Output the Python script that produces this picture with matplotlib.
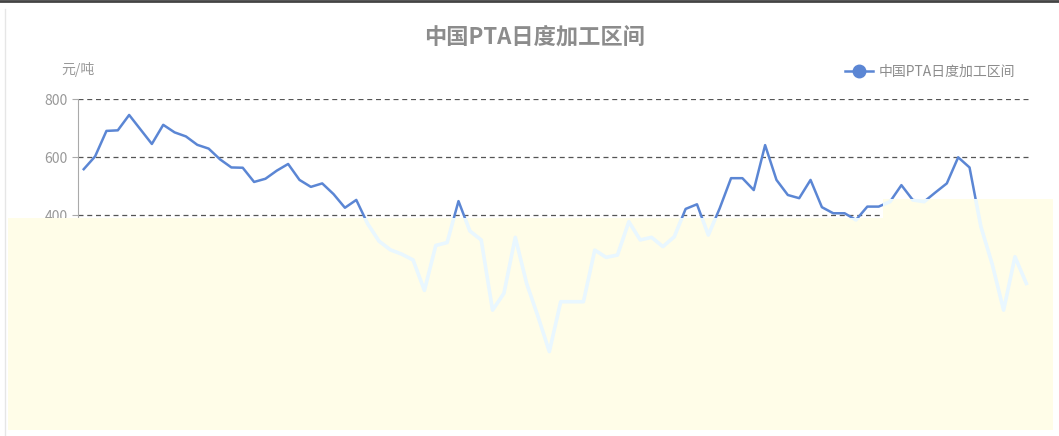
import matplotlib.pyplot as plt
from matplotlib.patches import Polygon

plt.rcParams['font.family'] = ['Noto Sans CJK SC', 'DejaVu Sans']

# 中国PTA日度加工区间, 元/吨
spread = [558, 602, 690, 692, 745, 695, 645, 711, 685, 671,
          642, 629, 592, 564, 563, 514, 525, 553, 576, 521,
          497, 509, 472, 425, 452, 370, 310, 280, 265, 245,
          140, 295, 305, 448, 345, 314, 72, 130, 323, 164,
          50, -71, 101, 101, 101, 279, 254, 262, 377, 314,
          323, 291, 325, 421, 437, 331, 423, 527, 527, 486,
          641, 521, 469, 458, 521, 427, 406, 406, 383, 429,
          429, 446, 503, 452, 446, 478, 509, 599, 564, 360,
          230, 72, 256, 164]
yticks = [-200, 0, 200, 400, 600, 800]
series_name = '中国PTA日度加工区间'

x = list(range(len(spread)))

fig = plt.figure(figsize=(10.59, 4.36), dpi=100)
ax = fig.add_axes([0.0737, 0.1078, 0.9008, 0.6651])

ax.plot(x, spread, color='#5b86d4', lw=1.8, zorder=3)

ax.set_xlim(-0.5, len(spread) - 0.5)
ax.set_ylim(-200, 800)
ax.set_yticks(yticks)
ax.set_xticks([])
ax.tick_params(axis='y', colors='#aaaaaa', labelcolor='#999999', labelsize=10, length=4)
for s in ['top', 'right', 'bottom']:
    ax.spines[s].set_visible(False)
ax.spines['left'].set_color('#aaaaaa')
ax.yaxis.grid(True, linestyle=(0, (4, 3)), color='#555555', lw=0.9)
ax.set_axisbelow(True)

fig.text(0.505, 0.915, series_name, ha='center', va='center', fontsize=16,
         fontweight='bold', color='#8c8c8c')
fig.text(0.058, 0.84, '元/吨', ha='left', va='center', fontsize=10, color='#999999')

leg_line, = ax.plot([], [], color='#5b86d4', lw=1.8, marker='o', markersize=9)
leg = fig.legend([leg_line], [series_name], loc='center', bbox_to_anchor=(0.878, 0.835),
                 frameon=False, fontsize=10, handlelength=2.0, handletextpad=0.4)
for t in leg.get_texts():
    t.set_color('#8c8c8c')

# frame lines of the screenshot
fig.add_artist(plt.Line2D([0, 1], [0.997, 0.997], color='#444444', lw=2))
fig.add_artist(plt.Line2D([0.005, 0.005], [0.0, 0.98], color='#e6e6e6', lw=1))

# pale overlay covering the lower part of the picture
W, H = 1059, 436
pts = [(8, 218), (883, 218), (883, 199), (1053, 199), (1053, 430), (8, 430)]
poly = Polygon([(px / W, 1 - py / H) for px, py in pts], closed=True,
               transform=fig.transFigure, facecolor='#fffde8', edgecolor='none',
               clip_on=False, zorder=10)
ax.add_patch(poly)
pale, = ax.plot(x, spread, color='#e9f7ff', lw=2.6, zorder=11)
pale.set_clip_path(poly)

fig.savefig('out.png', dpi=100, facecolor='white')
